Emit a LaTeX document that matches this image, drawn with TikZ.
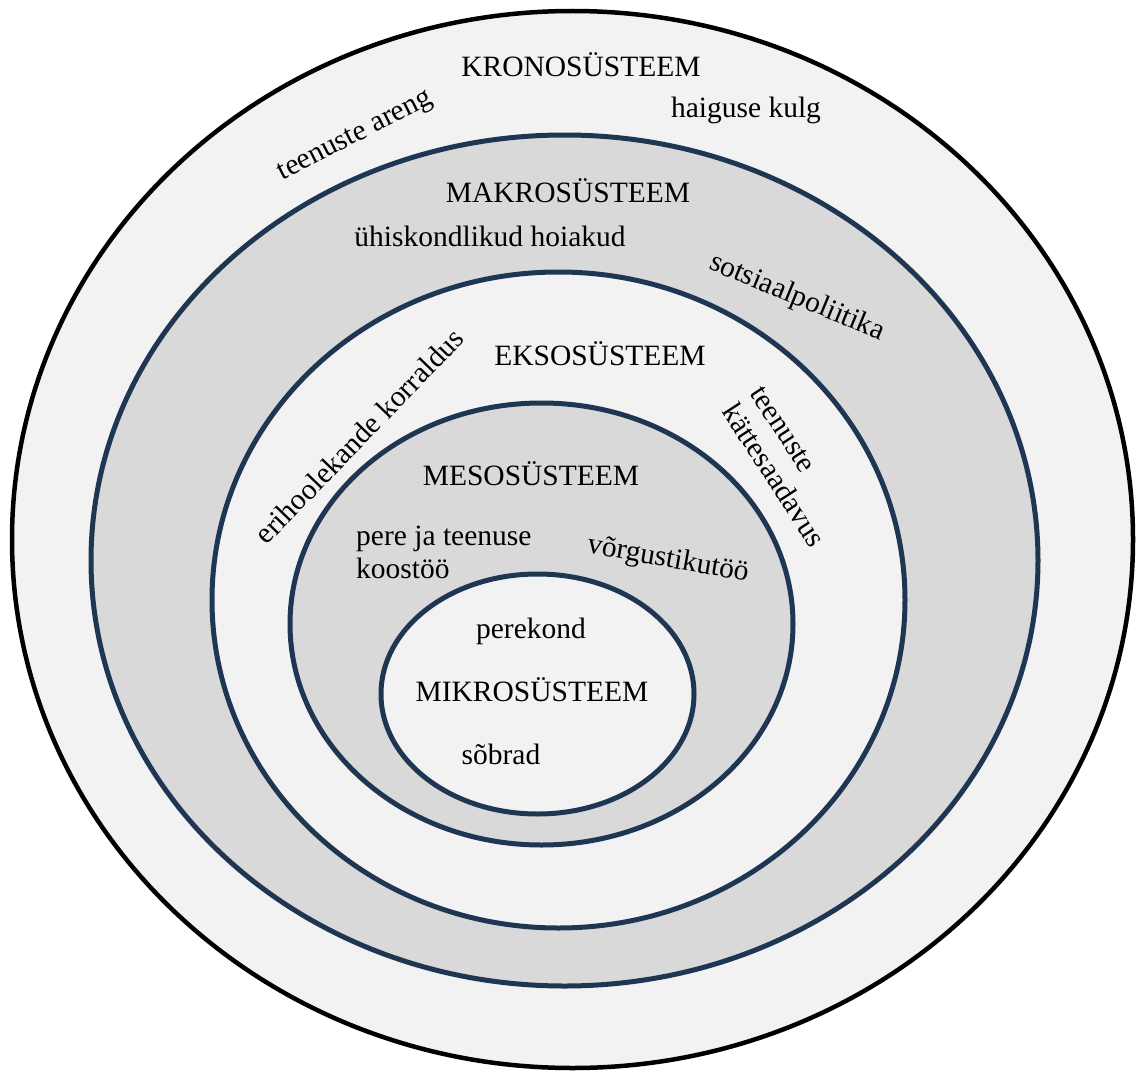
\documentclass[tikz,border=0pt]{standalone}
\usepackage{fontspec}
\setmainfont{Liberation Serif}
\definecolor{navy}{HTML}{1F3652}
\definecolor{lightfill}{HTML}{F2F2F2}
\definecolor{midfill}{HTML}{D9D9D9}
\begin{document}
\begin{tikzpicture}[x=1pt,y=-1pt,
  outerring/.style={draw=black,line width=4.5pt,fill=lightfill},
  ringA/.style={draw=navy,line width=5pt,fill=midfill},
  ringB/.style={draw=navy,line width=5pt,fill=lightfill},
  lbl/.style={font=\fontsize{29.5}{33}\selectfont,inner sep=0pt,text=black}]
\useasboundingbox (0,0) rectangle (1136,1073);
% rings
\draw[outerring] (572.5,539.5) ellipse [x radius=560.5, y radius=528.5];
\draw[ringA] (564.5,560.5) ellipse [x radius=473.5, y radius=425.5];
\draw[ringB] (558.5,600) ellipse [x radius=346.5, y radius=328];
\draw[ringA] (541.5,624) ellipse [x radius=251.5, y radius=221];
\draw[ringB] (537.5,694) ellipse [x radius=156.5, y radius=120];
% labels
\node[lbl] (krono) at (581,65) {KRONOSÜSTEEM};
\node[lbl] (haigus) at (746,110) {haiguse kulg};
\node[lbl,rotate=27] (areng) at (356,137) {teenuste areng};
\node[lbl] (makro) at (568,191) {MAKROSÜSTEEM};
\node[lbl] (hoiak) at (490,236) {ühiskondlikud hoiakud};
\node[lbl,rotate=-22.5] (sots) at (797,298) {sotsiaalpoliitika};
\node[lbl] (ekso) at (600,354) {EKSOSÜSTEEM};
\node[lbl,rotate=46] (eri) at (359,436) {erihoolekande korraldus};
\node[lbl,rotate=-57,align=left] (kätte) at (787,467) {teenuste\\kättesaadavus};
\node[lbl] (meso) at (531,474) {MESOSÜSTEEM};
\node[lbl,align=left,anchor=west] (pere) at (356,552) {pere ja teenuse\\koostöö};
\node[lbl,rotate=-10] (vorg) at (668,560) {võrgustikutöö};
\node[lbl] (perek) at (531,631) {perekond};
\node[lbl] (mikro) at (532,690) {MIKROSÜSTEEM};
\node[lbl] (sobr) at (501,754) {sõbrad};
\end{tikzpicture}
\end{document}
